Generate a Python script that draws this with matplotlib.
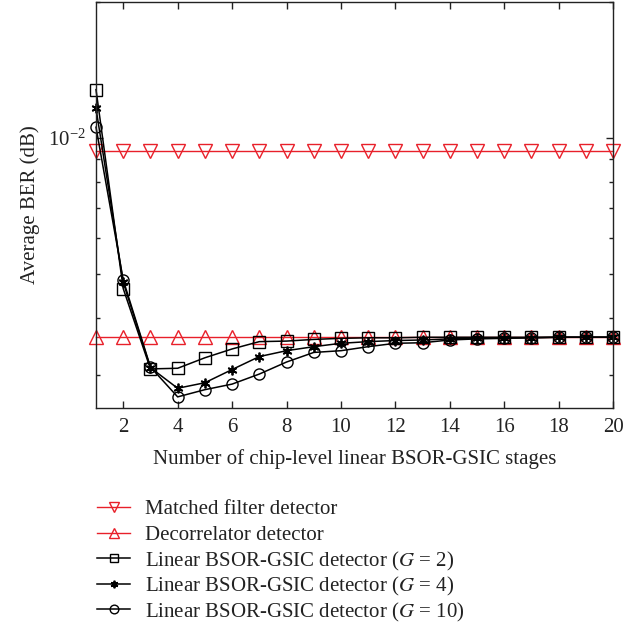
import numpy as np
import matplotlib
matplotlib.use("Agg")
import matplotlib.pyplot as plt
from matplotlib.ticker import LogLocator, NullFormatter, FixedLocator

plt.rcParams['font.family'] = ['Liberation Serif', 'DejaVu Serif']
plt.rcParams['mathtext.fontset'] = 'stix'

stages = np.arange(1, 21)

ber_matched = [9.38e-3] * 20
ber_decorr = [3.64e-3] * 20
ber_g2 = [1.28e-2, 4.65e-3, 3.09e-3, 3.10e-3, 3.27e-3, 3.42e-3, 3.55e-3, 3.56e-3, 3.59e-3, 3.61e-3,
          3.62e-3, 3.62e-3, 3.63e-3, 3.63e-3, 3.63e-3, 3.63e-3, 3.63e-3, 3.63e-3, 3.63e-3, 3.63e-3]
ber_g4 = [1.164e-2, 4.80e-3, 3.11e-3, 2.80e-3, 2.88e-3, 3.08e-3, 3.29e-3, 3.39e-3, 3.46e-3, 3.52e-3,
          3.55e-3, 3.57e-3, 3.58e-3, 3.60e-3, 3.61e-3, 3.62e-3, 3.62e-3, 3.63e-3, 3.63e-3, 3.63e-3]
ber_g10 = [1.057e-2, 4.86e-3, 3.12e-3, 2.68e-3, 2.78e-3, 2.86e-3, 3.01e-3, 3.20e-3, 3.36e-3, 3.39e-3,
           3.46e-3, 3.52e-3, 3.53e-3, 3.58e-3, 3.60e-3, 3.61e-3, 3.62e-3, 3.63e-3, 3.63e-3, 3.63e-3]

labels = ['Matched filter detector',
          'Decorrelator detector',
          'Linear BSOR-GSIC detector ($G$ = 2)',
          'Linear BSOR-GSIC detector ($G$ = 4)',
          'Linear BSOR-GSIC detector ($G$ = 10)']

red = '#e8202a'
ink = '#222222'
styles = [
    dict(color=red, lw=1.0, marker='v', ms=9.5, mfc='none', mec=red),
    dict(color=red, lw=1.0, marker='^', ms=9.5, mfc='none', mec=red),
    dict(color='black', lw=1.1, marker='s', ms=8, mfc='none'),
    dict(color='black', lw=1.1, marker=(6, 2, 0), ms=7, mew=1.3),
    dict(color='black', lw=1.1, marker='o', ms=8, mfc='none'),
]

fig = plt.figure(figsize=(6.4, 6.28), dpi=100)
ax = fig.add_axes([0.15, 0.350, 0.808, 0.647])

for ys, st in zip([ber_matched, ber_decorr, ber_g2, ber_g4, ber_g10], styles):
    ax.plot(stages, ys, clip_on=False, **st)

ax.set_yscale('log')
ax.set_xlim(1, 20)
ax.set_ylim(2.53e-3, 2e-2)
ax.xaxis.set_major_locator(FixedLocator(np.arange(2, 21, 2)))
ax.yaxis.set_major_locator(LogLocator(base=10))
ax.yaxis.set_minor_locator(LogLocator(base=10, subs=np.arange(2, 10)))
ax.yaxis.set_minor_formatter(NullFormatter())
ax.tick_params(which='both', direction='in', top=True, right=True, labelsize=15, width=1.0,
               colors=ink, pad=7)
ax.tick_params(which='major', length=5)
ax.tick_params(which='minor', length=3)
for s in ax.spines.values():
    s.set_linewidth(1.0)
    s.set_color(ink)

ax.set_xlabel('Number of chip-level linear BSOR-GSIC stages', fontsize=15, color=ink, labelpad=9)
ax.set_ylabel('Average BER (dB)', fontsize=15, color=ink, labelpad=6)

# legend below the axes, laid out in pixel coordinates so rows are evenly spaced
leg = fig.add_axes([0, 0, 1, 1], frameon=False)
leg.set_xlim(0, 640)
leg.set_ylim(628, 0)
leg.axis('off')
row_y = 507
for lab, st in zip(labels, styles):
    line_st = {k: v for k, v in st.items() if k in ('color', 'lw')}
    mark_st = {k: v for k, v in st.items() if k != 'lw'}
    mark_st['ms'] = st['ms'] * 0.78
    leg.plot([97, 130], [row_y, row_y], **line_st)
    leg.plot([113.5], [row_y], ls='none', **mark_st)
    leg.text(145, row_y, lab, fontsize=15, color=ink, va='center_baseline')
    row_y += 25.5

fig.savefig('out.png', dpi=100)
